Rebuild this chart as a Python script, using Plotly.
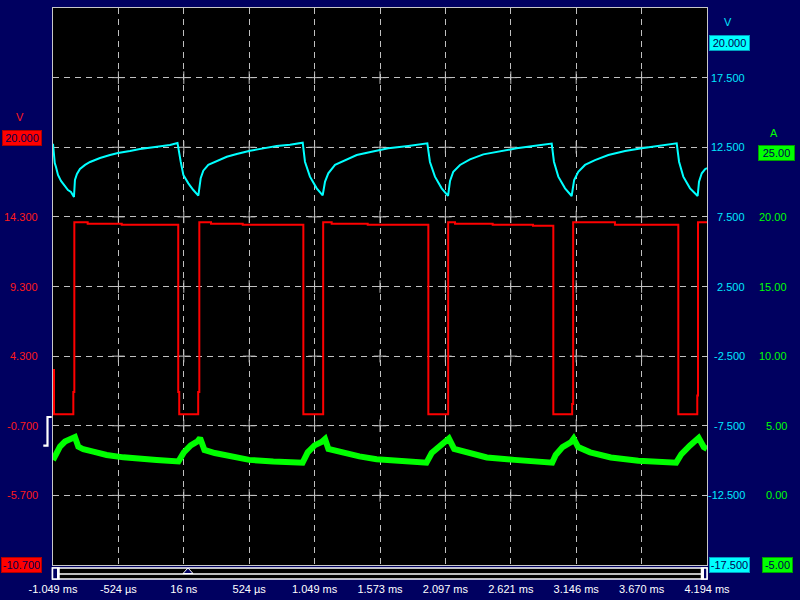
import numpy as np
import plotly.graph_objects as go

# ---------------- data ----------------
time_range = [-1.049, 4.194]  # ms
time_tick_labels = ["-1.049 ms", "-524 µs", "16 ns", "524 µs", "1.049 ms", "1.573 ms",
                    "2.097 ms", "2.621 ms", "3.146 ms", "3.670 ms", "4.194 ms"]

red_range = [-10.7, 29.3]
red_tick_vals = [14.3, 9.3, 4.3, -0.7, -5.7]
red_tick_labels = ["14.300", "9.300", "4.300", "-0.700", "-5.700"]

cyan_range = [-17.5, 22.5]
cyan_tick_vals = [17.5, 12.5, 7.5, 2.5, -2.5, -7.5, -12.5]
cyan_tick_labels = ["17.500", "12.500", "7.500", "2.500", "-2.500", "-7.500", "-12.500"]

green_range = [-5.0, 35.0]
green_tick_vals = [20, 15, 10, 5, 0]
green_tick_labels = ["20.00", "15.00", "10.00", "5.00", "0.00"]

# red channel (V, left scale) - step trace
red_t = [-1.049, -1.041, -0.886, -0.878, -0.771, -0.498,
         -0.045, -0.037, 0.115, 0.124, 0.218, 0.472,
         0.958, 1.117, 1.185, 1.474,
         1.960, 2.119, 2.174, 2.476, 2.799,
         2.962, 3.113, 3.121, 3.456,
         3.964, 4.116, 4.122, 4.194]
red_v = [3.30, 0.12, 1.72, 13.91, 13.81, 13.74,
         1.72, 0.12, 1.72, 13.91, 13.81, 13.74,
         0.12, 13.91, 13.81, 13.74,
         0.12, 13.91, 13.81, 13.74, 13.67,
         0.12, 0.86, 13.91, 13.74,
         0.12, 1.47, 13.91, 13.91]

# cyan channel (V, right scale)
cyan_t = [-1.049, -1.035, -1.025, -1.009, -0.985, -0.961, -0.929, -0.905, -0.881, -0.873, -0.857,
          -0.833, -0.792, -0.752, -0.712, -0.672, -0.592, -0.528, -0.432, -0.352, -0.231, -0.111, -0.051,
          -0.039, -0.025, -0.004, 0.036, 0.076, 0.116, 0.135, 0.156, 0.196, 0.263, 0.344, 0.424, 0.530,
          0.637, 0.744, 0.851, 0.953,
          0.971, 1.011, 1.065, 1.113, 1.132, 1.158, 1.212, 1.292, 1.386, 1.506, 1.639, 1.799, 1.952,
          1.973, 2.013, 2.067, 2.118, 2.134, 2.160, 2.214, 2.294, 2.401, 2.535, 2.668, 2.802, 2.949,
          2.967, 3.002, 3.056, 3.109, 3.129, 3.162, 3.216, 3.296, 3.403, 3.537, 3.671, 3.804, 3.951,
          3.970, 4.004, 4.058, 4.119, 4.130, 4.152, 4.178, 4.194]
cyan_v = [12.75, 11.37, 11.08, 10.51, 10.08, 9.79, 9.43, 9.29, 8.93, 10.15, 10.58,
          10.94, 11.23, 11.44, 11.58, 11.73, 11.94, 12.09, 12.23, 12.37, 12.52, 12.66, 12.81,
          12.30, 11.46, 10.51, 9.91, 9.43, 9.02, 10.27, 10.82, 11.23, 11.51, 11.82, 12.02, 12.25,
          12.42, 12.59, 12.68, 12.83,
          11.46, 10.39, 9.55, 9.05, 10.03, 10.63, 11.23, 11.58, 11.94, 12.18, 12.42, 12.59, 12.78,
          11.44, 10.39, 9.55, 9.01, 10.08, 10.74, 11.23, 11.63, 11.99, 12.23, 12.42, 12.59, 12.76,
          11.46, 10.39, 9.55, 9.00, 10.15, 10.74, 11.23, 11.58, 11.94, 12.23, 12.42, 12.59, 12.78,
          11.46, 10.39, 9.55, 9.00, 10.03, 10.63, 10.92, 11.01]

# green channel (A, far-right scale)
green_t = [-1.049, -0.993, -0.953, -0.913, -0.873, -0.846, -0.806, -0.726, -0.619, -0.485, -0.352, -0.218, -0.043,
           0.000, 0.055, 0.109, 0.130, 0.165, 0.248, 0.386, 0.524, 0.717, 0.855, 0.952,
           0.993, 1.048, 1.104, 1.132, 1.159, 1.270, 1.407, 1.545, 1.767, 1.945,
           1.987, 2.070, 2.125, 2.167, 2.263, 2.429, 2.650, 2.926, 2.953,
           2.981, 3.036, 3.105, 3.125, 3.161, 3.257, 3.423, 3.643, 3.947,
           3.989, 4.058, 4.113, 4.127, 4.168, 4.194]
green_v = [2.54, 3.50, 3.86, 4.03, 4.19, 3.50, 3.31, 3.14, 2.90, 2.73, 2.61, 2.54, 2.44,
           3.09, 3.59, 3.88, 4.12, 3.26, 3.04, 2.80, 2.55, 2.43, 2.40, 2.35,
           3.09, 3.59, 3.83, 4.05, 3.34, 3.09, 2.80, 2.60, 2.43, 2.35,
           3.04, 3.59, 4.08, 3.34, 3.09, 2.72, 2.55, 2.40, 2.35,
           2.90, 3.47, 3.83, 4.08, 3.47, 3.09, 2.72, 2.48, 2.35,
           2.97, 3.59, 3.95, 4.13, 3.47, 3.34]

# ---------------- layout helpers ----------------
W, H = 800, 600
ML, MR, MT, MB = 53, 93, 8, 35
PW, PH = W - ML - MR, H - MT - MB
NAVY = "#000060"
GRID = "#c0c0c0"
FONT = "Liberation Sans, Arial, sans-serif"


def px(x):
    return (x - ML) / PW


def py(y):
    return (H - MB - y) / PH


x_ticks = list(np.linspace(time_range[0], time_range[1], 11))
y_grid = list(np.linspace(red_range[0], red_range[1], 9))

fig = go.Figure()

# grid intersection crosses
cx, cy = [], []
for xv in x_ticks[1:-1]:
    for yv in y_grid[1:-1]:
        cx.append(xv)
        cy.append(yv)
fig.add_trace(go.Scatter(x=cx, y=cy, mode="markers", hoverinfo="skip", showlegend=False,
                         marker=dict(symbol="cross-thin", size=9, line=dict(color=GRID, width=1))))

fig.add_trace(go.Scatter(x=green_t, y=green_v, yaxis="y3", mode="lines", showlegend=False,
                         line=dict(color="#00ff00", width=6)))
fig.add_trace(go.Scatter(x=red_t, y=red_v, yaxis="y", mode="lines", showlegend=False,
                         line=dict(color="#ff0000", width=2, shape="hv")))
fig.add_trace(go.Scatter(x=cyan_t, y=cyan_v, yaxis="y2", mode="lines", showlegend=False,
                         line=dict(color="#00ffff", width=2)))

annotations = []


def label(text, x, y, yref, color, anchor="right"):
    annotations.append(dict(text=text, x=px(x), xref="paper", y=y, yref=yref, xanchor=anchor,
                            yanchor="middle", showarrow=False,
                            font=dict(color=color, size=11, family=FONT)))


for v, t in zip(red_tick_vals, red_tick_labels):
    label(t, 40, v, "y", "#ff1a1a")
for v, t in zip(cyan_tick_vals, cyan_tick_labels):
    label(t, 747, v, "y2", "#00e8ff")
for v, t in zip(green_tick_vals, green_tick_labels):
    label(t, 789, v, "y3", "#00ff00")


def badge(text, x, y, yref, fill, border, w, yshift=0):
    annotations.append(dict(text=text, x=px(x), xref="paper", y=y, yref=yref, xanchor="center",
                            yanchor="middle", showarrow=False, bgcolor=fill, bordercolor=border,
                            borderwidth=1, borderpad=1, width=w, height=12, yshift=yshift,
                            font=dict(color="#000050", size=11, family=FONT)))


badge("20.000", 21.5, 20.0, "y", "#ff0000", "#b00000", 36)
badge("-10.700", 21.5, -10.7, "y", "#ff0000", "#b00000", 37)
badge("20.000", 729.5, 20.0, "y2", "#00ffff", "#00a0c0", 37)
badge("-17.500", 729.7, -17.5, "y2", "#00ffff", "#00a0c0", 37)
badge("25.00", 776.3, 25.0, "y3", "#00ff00", "#00a000", 33, yshift=-6)
badge("-5.00", 777.4, -5.0, "y3", "#00ff00", "#00a000", 27)

for txt, x, y, col in [("V", 20, 116.7, "#ff1a1a"), ("V", 728.3, 22, "#00e8ff"), ("A", 773.7, 133.3, "#00ff00")]:
    annotations.append(dict(text=txt, x=px(x), xref="paper", y=py(y), yref="paper", xanchor="center",
                            yanchor="middle", showarrow=False, font=dict(color=col, size=11, family=FONT)))

shapes = [
    # scrollbar
    dict(type="rect", xref="paper", yref="paper", x0=px(52.5), x1=px(707), y0=py(579), y1=py(568),
         line=dict(color="white", width=1.5), fillcolor="black", layer="above"),
    dict(type="line", xref="paper", yref="paper", x0=px(52.5), x1=px(707), y0=py(574), y1=py(574),
         line=dict(color="white", width=1.5), layer="above"),
    dict(type="rect", xref="paper", yref="paper", x0=px(52.5), x1=px(59), y0=py(579), y1=py(568),
         line=dict(color="white", width=1.5), fillcolor=NAVY, layer="above"),
    dict(type="rect", xref="paper", yref="paper", x0=px(57), x1=px(59), y0=py(579), y1=py(568),
         line=dict(width=0), fillcolor="white", layer="above"),
    dict(type="rect", xref="paper", yref="paper", x0=px(701.5), x1=px(707), y0=py(579), y1=py(568),
         line=dict(color="white", width=1.5), fillcolor=NAVY, layer="above"),
    dict(type="rect", xref="paper", yref="paper", x0=px(701.5), x1=px(704), y0=py(579), y1=py(568),
         line=dict(width=0), fillcolor="white", layer="above"),
    dict(type="path", xref="paper", yref="paper",
         path=f"M {px(183)},{py(573.5)} L {px(188)},{py(568)} L {px(193)},{py(573.5)} Z",
         line=dict(color="white", width=1), fillcolor=NAVY, layer="above"),
    # bracket marker on left
    dict(type="path", xref="paper", yref="paper",
         path=(f"M {px(51.7)},{py(417)} L {px(47.5)},{py(417)} L {px(47.5)},{py(445.7)} "
               f"L {px(43.3)},{py(445.7)}"),
         line=dict(color="white", width=2.2), layer="above"),
]

grid_style = dict(showgrid=True, gridcolor=GRID, gridwidth=1, griddash="6px,5px", zeroline=False,
                  showline=True, mirror=True, linecolor="#c8c8c8", linewidth=1)

fig.update_layout(
    width=W, height=H, margin=dict(l=ML, r=MR, t=MT, b=MB, autoexpand=False),
    paper_bgcolor=NAVY, plot_bgcolor="black", showlegend=False,
    xaxis=dict(range=time_range, tickmode="array", tickvals=x_ticks, ticktext=time_tick_labels,
               ticks="", ticklabelstandoff=14, automargin=False,
               tickfont=dict(color="white", size=11, family=FONT), **grid_style),
    yaxis=dict(range=red_range, tickmode="array", tickvals=y_grid, showticklabels=False, ticks="",
               automargin=False, **grid_style),
    yaxis2=dict(range=cyan_range, overlaying="y", showgrid=False, showticklabels=False,
                zeroline=False, ticks=""),
    yaxis3=dict(range=green_range, overlaying="y", showgrid=False, showticklabels=False,
                zeroline=False, ticks=""),
    annotations=annotations, shapes=shapes,
)

fig.write_html("out.html", config={"displayModeBar": False},
               post_script="document.body.style.margin='0';document.body.style.background='#000060';")
